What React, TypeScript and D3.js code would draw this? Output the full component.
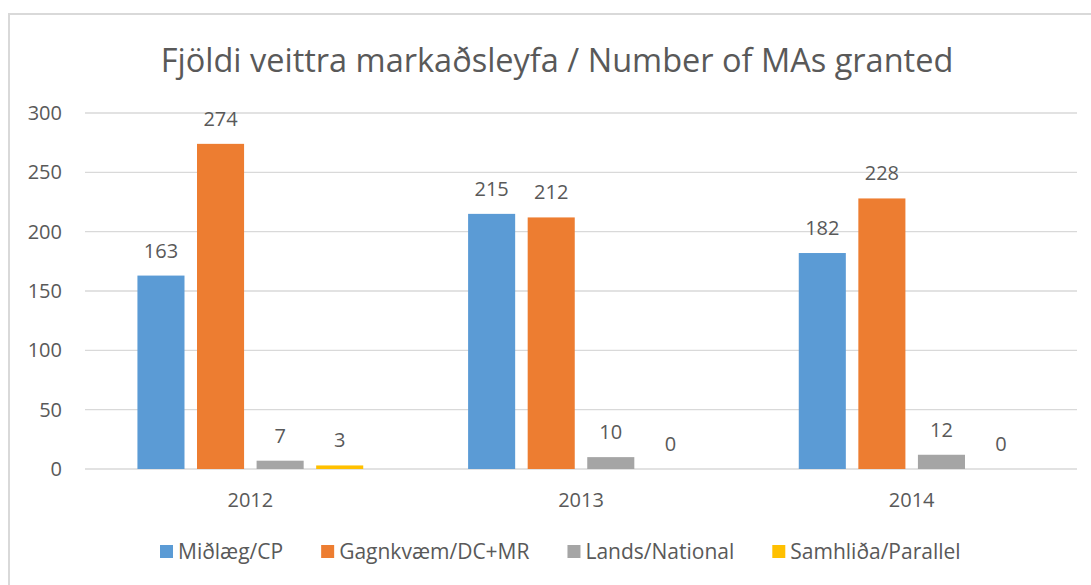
import React, { useEffect, useRef } from "react";
import * as d3 from "d3";

const years = ["2012", "2013", "2014"];
const seriesNames = ["Miðlæg/CP", "Gagnkvæm/DC+MR", "Lands/National", "Samhliða/Parallel"];
const seriesColors = ["#5b9bd5", "#ed7d31", "#a5a5a5", "#ffc000"];
const midlaeg = [163, 215, 182];
const gagnkvaem = [274, 212, 228];
const lands = [7, 10, 12];
const samhlida = [3, 0, 0];
const yTicks = [0, 50, 100, 150, 200, 250, 300];

const App = () => {
  const ref = useRef<SVGSVGElement>(null);

  useEffect(() => {
    const width = 1091;
    const height = 585;
    const margin = { top: 113, right: 14, bottom: 116, left: 85 };
    const innerWidth = width - margin.left - margin.right;
    const innerHeight = height - margin.top - margin.bottom;
    const font = "'Open Sans', sans-serif";
    const textColor = "#595959";

    const svg = d3.select(ref.current);
    svg.selectAll("*").remove();

    // chart frame
    svg.append("rect")
      .attr("x", 9).attr("y", 14)
      .attr("width", width + 10).attr("height", height)
      .attr("fill", "#fff")
      .attr("stroke", "#d9d9d9")
      .attr("stroke-width", 2);

    const series = [midlaeg, gagnkvaem, lands, samhlida];
    const data = years.map((y, i) => ({ year: y, values: series.map(s => s[i]) }));

    const xScale = d3.scaleBand().domain(years).range([0, innerWidth]).paddingInner(0).paddingOuter(0);
    const inner = d3.scaleBand<number>().domain(d3.range(seriesNames.length))
      .range([0, xScale.bandwidth()]).paddingInner(0.21).paddingOuter(0.88);
    const yScale = d3.scaleLinear().domain([0, 300]).range([innerHeight, 0]);

    const g = svg.append("g").attr("transform", `translate(${margin.left}, ${margin.top})`);

    // gridlines
    g.selectAll("line.grid")
      .data(yTicks)
      .join("line")
      .attr("class", "grid")
      .attr("x1", 0).attr("x2", innerWidth)
      .attr("y1", d => yScale(d)).attr("y2", d => yScale(d))
      .attr("stroke", "#d9d9d9").attr("stroke-width", 1.3);

    // y tick labels
    g.selectAll("text.ytick")
      .data(yTicks)
      .join("text")
      .attr("class", "ytick")
      .attr("x", -23).attr("y", d => yScale(d))
      .attr("dy", "0.35em")
      .attr("text-anchor", "end")
      .attr("font-family", font).attr("font-size", 20)
      .attr("fill", textColor)
      .text(d => d);

    // bars
    const groups = g.selectAll("g.year")
      .data(data)
      .join("g")
      .attr("class", "year")
      .attr("transform", d => `translate(${xScale(d.year)}, 0)`);

    groups.selectAll("rect")
      .data(d => d.values.map((v, i) => ({ v, i })))
      .join("rect")
      .attr("x", d => inner(d.i)!)
      .attr("y", d => yScale(d.v))
      .attr("width", inner.bandwidth())
      .attr("height", d => innerHeight - yScale(d.v))
      .attr("fill", d => seriesColors[d.i]);

    groups.selectAll("text.val")
      .data(d => d.values.map((v, i) => ({ v, i })))
      .join("text")
      .attr("class", "val")
      .attr("x", d => inner(d.i)! + inner.bandwidth() / 2)
      .attr("y", d => yScale(d.v) - 18)
      .attr("text-anchor", "middle")
      .attr("font-family", font).attr("font-size", 20)
      .attr("fill", textColor)
      .text(d => d.v);

    // x labels
    g.selectAll("text.xlab")
      .data(years)
      .join("text")
      .attr("class", "xlab")
      .attr("x", d => xScale(d)! + xScale.bandwidth() / 2)
      .attr("y", innerHeight + 38)
      .attr("text-anchor", "middle")
      .attr("font-family", font).attr("font-size", 20)
      .attr("fill", textColor)
      .text(d => d);

    // title
    svg.append("text")
      .attr("x", 557).attr("y", 72)
      .attr("text-anchor", "middle")
      .attr("font-family", font).attr("font-size", 32.5)
      .attr("fill", textColor)
      .text("Fjöldi veittra markaðsleyfa / Number of MAs granted");

    // legend
    const legend = svg.append("g").attr("transform", "translate(160, 559)");
    const items = legend.selectAll("g")
      .data(seriesNames)
      .join("g");
    items.append("rect")
      .attr("width", 13).attr("height", 13)
      .attr("y", -14)
      .attr("fill", (d, i) => seriesColors[i]);
    items.append("text")
      .attr("x", 18).attr("y", 0)
      .attr("font-family", font).attr("font-size", 21)
      .attr("fill", textColor)
      .text(d => d);
    let xPos = 0;
    const gap = 38;
    items.each(function () {
      const t = d3.select(this).select("text").node() as SVGTextElement;
      d3.select(this).attr("transform", `translate(${xPos}, 0)`);
      xPos += 18 + t.getComputedTextLength() + gap;
    });
  }, []);

  return <svg ref={ref} width={1091} height={585} style={{ position: "absolute", left: 0, top: 0 }} />;
};

export default App;
